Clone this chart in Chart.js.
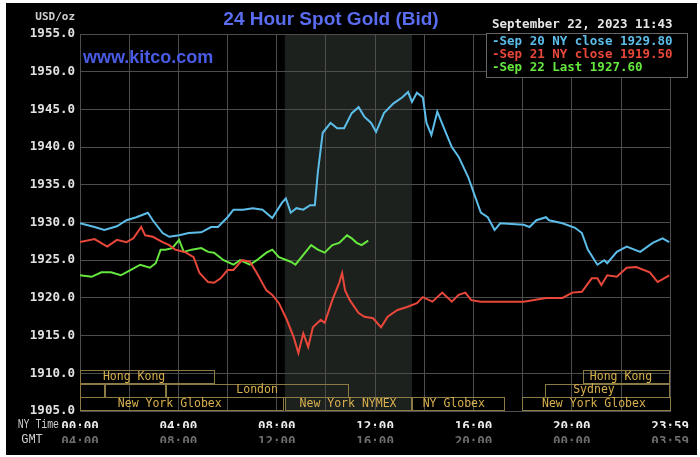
<!DOCTYPE html>
<html>
<head>
<meta charset="utf-8">
<script src="https://cdn.jsdelivr.net/npm/chart.js@4"></script>
<style>
  html, body { margin: 0; background: #fff; }
  #wrap { position: absolute; left: 6px; top: 3px; width: 691px; height: 452px; background: #000; }
</style>
</head>
<body>
<div id="wrap"><canvas id="goldChart" width="691" height="452"></canvas></div>
<script>
// hours after NY midnight, and bid price in USD/oz
const sep20Hours = [0, 0.59, 0.99, 1.5, 1.89, 2.29, 2.76, 2.96, 3.36, 3.63, 4.03, 4.42, 4.93, 5.33, 5.61, 6.0, 6.24, 6.63, 7.03, 7.42, 7.82, 8.21, 8.37, 8.57, 8.8, 9.08, 9.36, 9.55, 9.67, 9.87, 10.19, 10.46, 10.74, 11.05, 11.33, 11.57, 11.84, 12.04, 12.36, 12.75, 13.11, 13.34, 13.5, 13.7, 13.94, 14.09, 14.29, 14.53, 14.88, 15.12, 15.4, 15.79, 16.07, 16.3, 16.58, 16.86, 17.09, 18.04, 18.28, 18.56, 18.95, 19.07, 19.62, 20.13, 20.41, 20.65, 21.04, 21.32, 21.44, 21.83, 22.23, 22.78, 23.29, 23.69, 23.96];
const sep20Values = [1929.9, 1929.4, 1929.0, 1929.5, 1930.3, 1930.7, 1931.3, 1930.3, 1928.6, 1928.1, 1928.3, 1928.6, 1928.7, 1929.4, 1929.4, 1930.7, 1931.7, 1931.7, 1931.9, 1931.7, 1930.6, 1932.6, 1933.2, 1931.3, 1931.9, 1931.7, 1932.3, 1932.3, 1936.6, 1941.9, 1943.2, 1942.5, 1942.5, 1944.5, 1945.3, 1944.0, 1943.2, 1942.0, 1944.5, 1945.8, 1946.6, 1947.3, 1946.0, 1947.2, 1946.6, 1943.2, 1941.6, 1944.7, 1941.9, 1940.0, 1938.7, 1936.0, 1933.4, 1931.3, 1930.7, 1929.0, 1929.9, 1929.7, 1929.4, 1930.3, 1930.7, 1930.3, 1929.9, 1929.3, 1928.6, 1926.4, 1924.4, 1925.0, 1924.6, 1926.1, 1926.8, 1926.1, 1927.3, 1927.9, 1927.4];

const sep21Hours = [0, 0.59, 1.11, 1.5, 1.89, 2.17, 2.49, 2.65, 2.96, 3.36, 3.63, 3.87, 4.26, 4.62, 4.86, 5.21, 5.45, 5.72, 6.0, 6.24, 6.59, 6.91, 7.19, 7.58, 7.82, 8.09, 8.41, 8.69, 8.88, 9.08, 9.28, 9.47, 9.79, 9.95, 10.26, 10.54, 10.66, 10.78, 10.97, 11.33, 11.57, 11.92, 12.24, 12.51, 12.91, 13.3, 13.7, 13.94, 14.33, 14.73, 15.12, 15.4, 15.67, 15.91, 16.3, 18.04, 18.95, 19.62, 20.02, 20.41, 20.81, 21.04, 21.2, 21.44, 21.83, 22.23, 22.62, 23.17, 23.49, 23.96];
const sep21Values = [1927.4, 1927.8, 1926.8, 1927.7, 1927.4, 1927.9, 1929.4, 1928.3, 1928.1, 1927.4, 1927.0, 1926.4, 1926.1, 1925.4, 1923.3, 1922.1, 1922.0, 1922.6, 1923.7, 1923.7, 1925.0, 1924.8, 1923.3, 1921.0, 1920.4, 1919.3, 1917.1, 1914.8, 1912.7, 1915.3, 1913.5, 1916.1, 1917.1, 1916.7, 1919.7, 1922.0, 1923.3, 1921.0, 1919.7, 1918.0, 1917.5, 1917.3, 1916.1, 1917.5, 1918.4, 1918.8, 1919.3, 1920.1, 1919.5, 1920.7, 1919.5, 1920.4, 1920.7, 1919.7, 1919.5, 1919.5, 1920.0, 1920.0, 1920.7, 1920.8, 1922.6, 1922.6, 1921.7, 1923.0, 1922.8, 1924.0, 1924.1, 1923.4, 1922.1, 1923.0];

const sep22Hours = [0, 0.47, 0.87, 1.26, 1.66, 2.05, 2.45, 2.84, 3.08, 3.28, 3.47, 3.75, 4.03, 4.22, 4.54, 4.93, 5.21, 5.45, 5.84, 6.24, 6.51, 6.91, 7.19, 7.58, 7.82, 8.09, 8.57, 8.76, 9.08, 9.4, 9.67, 9.95, 10.26, 10.54, 10.86, 11.05, 11.25, 11.45, 11.72];
const sep22Values = [1923.0, 1922.8, 1923.4, 1923.4, 1923.0, 1923.7, 1924.4, 1924.0, 1924.6, 1926.4, 1926.4, 1926.6, 1927.7, 1926.1, 1926.4, 1926.6, 1926.1, 1926.0, 1925.0, 1924.4, 1925.0, 1924.4, 1925.0, 1926.0, 1926.4, 1925.4, 1924.8, 1924.4, 1925.7, 1927.0, 1926.4, 1926.0, 1927.0, 1927.3, 1928.3, 1927.9, 1927.3, 1927.0, 1927.6];

const legendLines = ["-Sep 20 NY close 1929.80", "-Sep 21 NY close 1919.50", "-Sep 22 Last 1927.60"];
const stamp = "September 22, 2023 11:43";

// market sessions (row 0 = top), in NY hours
const sessions = [
  { row: 0, from: 0, to: 5.5, label: "Hong Kong", at: 2.2 },
  { row: 0, from: 20.45, to: 24, label: "Hong Kong", at: 22.0 },
  { row: 1, from: 0, to: 1, label: "" },
  { row: 1, from: 1, to: 3.5, label: "" },
  { row: 1, from: 3.5, to: 10.95, label: "London", at: 7.2 },
  { row: 1, from: 18.9, to: 24, label: "Sydney", at: 20.9 },
  { row: 2, from: 0, to: 8.3, label: "New York Globex", at: 3.65 },
  { row: 2, from: 8.33, to: 13.5, label: "New York NYMEX", at: 10.9 },
  { row: 2, from: 13.5, to: 17.3, label: "NY Globex", at: 15.2 },
  { row: 2, from: 17.96, to: 24, label: "New York Globex", at: 20.9 },
];
const nymexOpen = 8.33, nymexClose = 13.5;

const MONO = '"DejaVu Sans Mono", monospace';
const BLUE = "#5cbde9", RED = "#e8473a", GREEN = "#66e83e";

function pts(hs, vs) { return hs.map((h, i) => ({ x: h, y: vs[i] })); }
function hhmm(v) {
  if (v >= 24) return "23:59";
  return String(v).padStart(2, "0") + ":00";
}

const overlay = {
  id: "overlay",
  beforeDraw(chart) {
    const { ctx, chartArea: a, scales: { x } } = chart;
    const x1 = x.getPixelForValue(nymexOpen), x2 = x.getPixelForValue(nymexClose);
    ctx.save();
    ctx.fillStyle = "#1d211d";
    ctx.fillRect(x1, a.top, x2 - x1, a.bottom - a.top);
    ctx.restore();
  },
  afterDraw(chart) {
    const { ctx, chartArea: a, scales: { x } } = chart;
    ctx.save();
    // title + site
    ctx.textBaseline = "middle";
    ctx.textAlign = "center";
    ctx.fillStyle = "#5a6cef";
    ctx.font = 'bold 19px "Liberation Sans", Arial, sans-serif';
    ctx.fillText("24 Hour Spot Gold (Bid)", 325, 17);
    ctx.textAlign = "left";
    ctx.fillStyle = "#4a5ce6";
    ctx.font = 'bold 18px "Liberation Sans", Arial, sans-serif';
    ctx.fillText("www.kitco.com", 77, 55);

    // unit
    ctx.textAlign = "right";
    ctx.fillStyle = "#d0d0d0";
    ctx.font = "bold 11px " + MONO;
    ctx.fillText("USD/oz", 69, 14);

    // time row captions
    ctx.font = '12px "Liberation Mono", monospace';
    ctx.fillStyle = "#cfcfcf";
    ctx.save();
    ctx.translate(53, 422);
    ctx.scale(0.82, 1);
    ctx.fillText("NY Time", 0, 0);
    ctx.restore();
    ctx.textAlign = "center";
    ctx.fillText("GMT", 26, 437);

    // legend box
    ctx.textAlign = "left";
    ctx.font = "bold 12.5px " + MONO;
    ctx.fillStyle = "#e6e6e6";
    ctx.fillText(stamp, 486, 22);
    ctx.fillStyle = "#000";
    ctx.fillRect(480, 30, 202, 44);
    ctx.strokeStyle = "#666";
    ctx.lineWidth = 1;
    ctx.strokeRect(480.5, 30.5, 201, 44);
    [BLUE, RED, GREEN].forEach((c, i) => {
      ctx.fillStyle = c;
      ctx.fillText(legendLines[i], 486, 39 + i * 13);
    });

    // sessions
    const rowH = 13.7;
    ctx.font = "11.5px " + MONO;
    ctx.textAlign = "center";
    sessions.forEach(s => {
      const top = a.bottom - (3 - s.row) * rowH;
      const l = x.getPixelForValue(s.from), r = x.getPixelForValue(s.to);
      ctx.strokeStyle = "#8a7b45";
      ctx.strokeRect(Math.round(l) + 0.5, Math.round(top) + 0.5, Math.round(r - l) - 1, Math.round(rowH) - 1);
      if (s.label) {
        ctx.fillStyle = "#d8b14e";
        ctx.fillText(s.label, x.getPixelForValue(s.at), top + rowH / 2);
      }
    });
    ctx.restore();
  },
};

const lineStyle = { borderWidth: 2, pointRadius: 0, tension: 0, fill: false };

new Chart(document.getElementById("goldChart"), {
  type: "line",
  data: {
    datasets: [
      { label: "Sep 20", data: pts(sep20Hours, sep20Values), borderColor: BLUE, ...lineStyle },
      { label: "Sep 21", data: pts(sep21Hours, sep21Values), borderColor: RED, ...lineStyle },
      { label: "Sep 22", data: pts(sep22Hours, sep22Values), borderColor: GREEN, ...lineStyle },
    ],
  },
  options: {
    responsive: false,
    animation: false,
    events: [],
    layout: { padding: { left: 0, right: 9, top: 31, bottom: 12 } },
    plugins: { legend: { display: false }, tooltip: { enabled: false } },
    scales: {
      x: {
        type: "linear", min: 0, max: 24,
        afterFit(s) { s.height = 17; },
        grid: { color: "#4d4d4d", drawTicks: false },
        border: { color: "#4d4d4d" },
        ticks: {
          stepSize: 2, autoSkip: false, maxRotation: 0, padding: 8,
          color: "#ececec", font: { family: MONO, size: 12.5, weight: "bold" },
          callback: v => (v % 4 === 0 ? hhmm(v) : ""),
        },
      },
      x2: {
        type: "linear", position: "bottom", min: 0, max: 24,
        afterFit(s) { s.height = 15; },
        grid: { display: false, drawTicks: false },
        border: { display: false },
        ticks: {
          stepSize: 2, autoSkip: false, maxRotation: 0, padding: 6,
          color: "#6e6e6e", font: { family: MONO, size: 12.5, weight: "bold" },
          callback: v => (v % 4 === 0 ? (v >= 24 ? "03:59" : hhmm((v + 4) % 24)) : ""),
        },
      },
      y: {
        min: 1905, max: 1955,
        afterFit(s) { s.width = 74; },
        grid: { color: "#4d4d4d", drawTicks: false },
        border: { color: "#4d4d4d" },
        ticks: {
          stepSize: 5, padding: 5,
          color: "#e2e2e2", font: { family: MONO, size: 12.5, weight: "bold" },
          callback: v => v.toFixed(1),
        },
      },
    },
  },
  plugins: [overlay],
});
</script>
</body>
</html>
